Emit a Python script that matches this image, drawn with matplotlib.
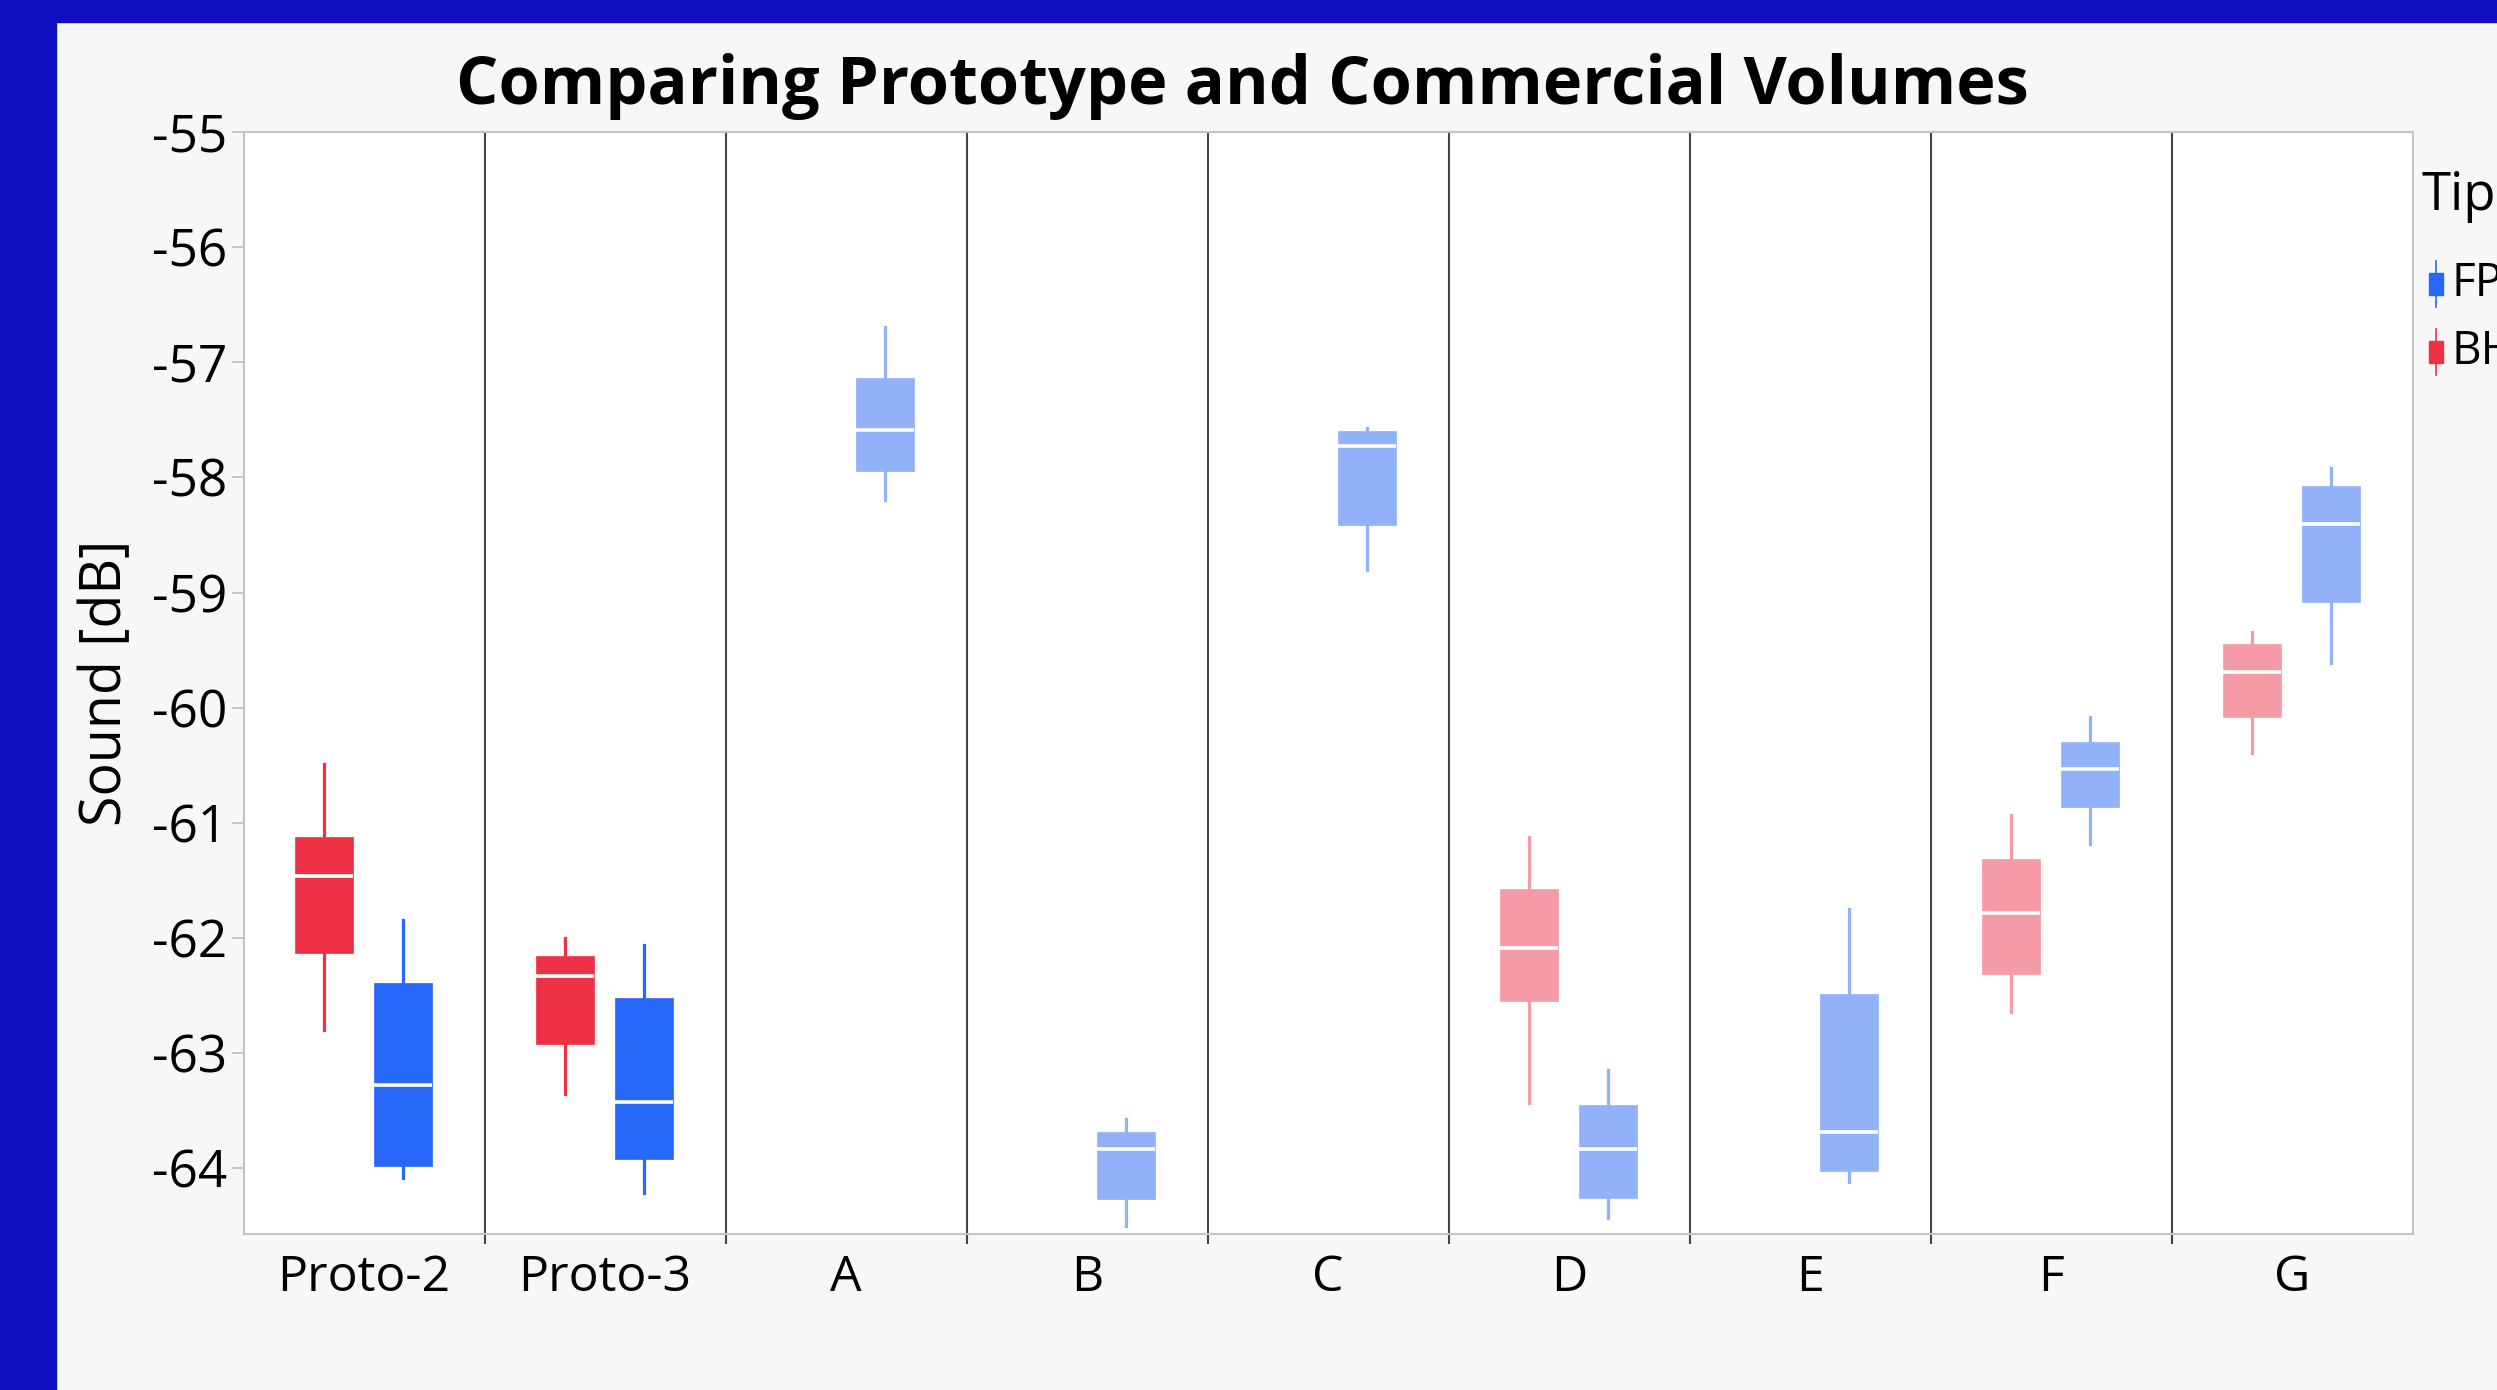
import matplotlib.pyplot as plt
from matplotlib.lines import Line2D
from matplotlib.patches import Rectangle
import numpy as np

plt.rcParams['font.family'] = ['Open Sans', 'DejaVu Sans']

# Sound level per volume, box stats in dB
groups = ['Proto-2', 'Proto-3', 'A', 'B', 'C', 'D', 'E', 'F', 'G']
proto_groups = ['Proto-2', 'Proto-3']

# BH tip (only some volumes have it)
bh_groups = ['Proto-2', 'Proto-3', 'D', 'F', 'G']
bh_whislo = [-62.80, -63.35, -63.43, -62.64, -60.39]
bh_q1 = [-62.13, -62.92, -62.55, -62.31, -60.08]
bh_med = [-61.46, -62.33, -62.09, -61.78, -59.69]
bh_q3 = [-61.12, -62.16, -61.57, -61.31, -59.45]
bh_whishi = [-60.49, -62.00, -61.12, -60.93, -59.34]

# FP tip
fp_groups = ['Proto-2', 'Proto-3', 'A', 'B', 'C', 'D', 'E', 'F', 'G']
fp_whislo = [-64.08, -64.21, -58.20, -64.50, -58.80, -64.43, -64.12, -61.18, -59.61]
fp_q1 = [-63.98, -63.92, -57.94, -64.27, -58.41, -64.26, -64.02, -60.86, -59.08]
fp_med = [-63.28, -63.42, -57.59, -63.83, -57.73, -63.83, -63.68, -60.53, -58.40]
fp_q3 = [-62.39, -62.52, -57.14, -63.68, -57.60, -63.45, -62.49, -60.30, -58.07]
fp_whishi = [-61.84, -62.06, -56.69, -63.57, -57.57, -63.15, -61.75, -60.08, -57.92]

yticks = [-55, -56, -57, -58, -59, -60, -61, -62, -63, -64]

# colours: saturated for prototypes, pale for commercial
colors = {
    ('BH', True): '#EE3245', ('BH', False): '#F59BA5',
    ('FP', True): '#2767FA', ('FP', False): '#91B1F9',
}
offsets = {'BH': -0.167, 'FP': 0.163}

W, H = 2497, 1390
fig = plt.figure(figsize=(W / 100, H / 100), dpi=100, facecolor='#F7F7F7')

# blue slide frame
fig.patches.append(Rectangle((0, 0), 56 / W, 1, transform=fig.transFigure,
                             color='#1010C0', zorder=0))
fig.patches.append(Rectangle((0, 1 - 22 / H), 1, 22 / H, transform=fig.transFigure,
                             color='#1010C0', zorder=0))

ax = fig.add_axes([243.6 / W, (H - 1234) / H, (2412.6 - 243.6) / W, (1234 - 132) / H])
ax.set_facecolor('white')


def draw_tip(tip, names, lo, q1, med, q3, hi):
    for name, a, b, c, d, e in zip(names, lo, q1, med, q3, hi):
        i = groups.index(name)
        col = colors[(tip, name in proto_groups)]
        st = [{'whislo': a, 'q1': b, 'med': c, 'q3': d, 'whishi': e, 'fliers': []}]
        ax.bxp(st, positions=[i + offsets[tip]], widths=0.24, patch_artist=True,
               showcaps=False, showfliers=False,
               boxprops=dict(facecolor=col, edgecolor=col, linewidth=0.5),
               whiskerprops=dict(color=col, linewidth=2.3),
               medianprops=dict(color='white', linewidth=2.6))


draw_tip('BH', bh_groups, bh_whislo, bh_q1, bh_med, bh_q3, bh_whishi)
draw_tip('FP', fp_groups, fp_whislo, fp_q1, fp_med, fp_q3, fp_whishi)

# separators between volumes
for k in range(len(groups) - 1):
    ax.axvline(k + 0.5, color='#444444', linewidth=1.5, zorder=1)

ax.set_xlim(-0.5, len(groups) - 0.5)
ax.set_ylim(-64.57, -55)

ax.set_xticks(np.arange(len(groups) - 1) + 0.5)
ax.set_xticklabels([])
ax.tick_params(axis='x', which='major', length=7, width=1.5, color='#444444')
ax.set_xticks(np.arange(len(groups)), minor=True)
ax.set_xticklabels(groups, minor=True, fontsize=36)
ax.tick_params(axis='x', which='minor', length=0, pad=14)

ax.set_yticks(yticks)
ax.set_yticklabels([str(v) for v in yticks], fontsize=37)
ax.tick_params(axis='y', length=9, width=1.2, color='#BBBBBB', pad=3)
ax.set_ylabel('Sound [dB]', fontsize=40, labelpad=12)

for s in ax.spines.values():
    s.set_color('#C4C4C4')
    s.set_linewidth(1.5)

fig.text(1242 / W, 1 - 86 / H, 'Comparing Prototype and Commercial Volumes',
         ha='center', va='center', fontsize=48, fontweight='bold')

# legend block at right edge (runs past the figure border)
fig.text(2421 / W, 1 - 196 / H, 'Tip', ha='left', va='center', fontsize=38)
for tip, yc, lab in [('FP', 284, 'FP'), ('BH', 352, 'BH')]:
    col = colors[(tip, True)]
    fig.add_artist(Line2D([2436 / W, 2436 / W], [1 - (yc - 23) / H, 1 - (yc + 23) / H],
                          transform=fig.transFigure, color=col, linewidth=1.2))
    fig.add_artist(Rectangle((2429 / W, 1 - (yc + 11) / H), 14 / W, 22 / H,
                             transform=fig.transFigure, color=col))
    fig.text(2452 / W, 1 - yc / H, lab, ha='left', va='center', fontsize=33)

fig.savefig('out.png', dpi=100, facecolor=fig.get_facecolor())
